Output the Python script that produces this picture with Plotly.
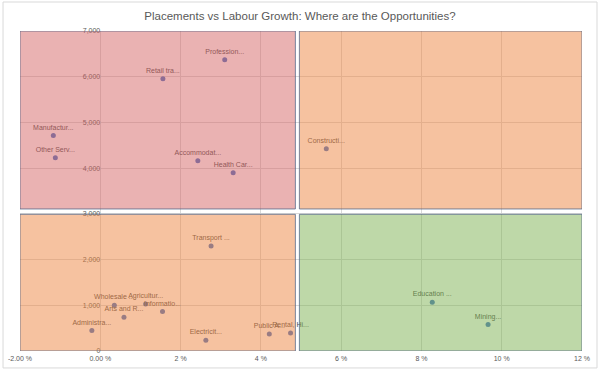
import plotly.graph_objects as go

# Data
labels = ["Profession...", "Retail tra...", "Manufactur...", "Other Serv...", "Accommodat...",
          "Health Car...", "Constructi...", "Transport ...", "Wholesale ...", "Agricultur...",
          "Arts and R...", "Informatio...", "Administra...", "Electricit...", "Public A...",
          "Rental, Hi...", "Education ...", "Mining..."]
labour_growth = [3.10, 1.56, -1.17, -1.12, 2.43, 3.31, 5.63, 2.76, 0.35, 1.13,
                 0.59, 1.55, -0.21, 2.63, 4.21, 4.74, 8.27, 9.66]
placements = [6370, 5956, 4716, 4226, 4160, 3898, 4423, 2299, 1000, 1029,
              738, 862, 446, 234, 373, 395, 1066, 578]

x_tickvals = [-2, 0, 2, 4, 6, 8, 10, 12]
x_ticktext = ["-2.00 %", "0.00 %", "2 %", "4 %", "6 %", "8 %", "10 %", "12 %"]
y_tickvals = [0, 1000, 2000, 3000, 4000, 5000, 6000, 7000]
y_ticktext = ["0", "1,000", "2,000", "3,000", "4,000", "5,000", "6,000", "7,000"]

FONT = "Liberation Sans, Arial, sans-serif"

fig = go.Figure()
fig.add_trace(go.Scatter(
    x=labour_growth, y=placements, text=labels,
    mode="markers+text", textposition="top center",
    marker=dict(color="#4472C4", size=5),
    textfont=dict(family=FONT, size=7, color="#4a4a4a"),
    cliponaxis=False, showlegend=False, hoverinfo="x+y+text",
))

line_col = "rgba(80,100,135,0.75)"
quads = [
    (-2, 4.86, 3107, 7000, "rgba(213,101,101,0.5)"),
    (4.96, 12, 3107, 7000, "rgba(237,133,65,0.5)"),
    (-2, 4.86, 0, 2990, "rgba(237,133,65,0.5)"),
    (4.96, 12, 0, 2990, "rgba(125,177,81,0.5)"),
]
for x0, x1, y0, y1, fc in quads:
    fig.add_shape(type="rect", xref="x", yref="y", x0=x0, x1=x1, y0=y0, y1=y1,
                  fillcolor=fc, line=dict(color=line_col, width=1), layer="above")

# faint outer frame
fig.add_shape(type="rect", xref="paper", yref="paper",
              x0=-0.0302, x1=1.0267, y0=-0.053, y1=1.0906,
              line=dict(color="#D9D9D9", width=1), fillcolor="rgba(0,0,0,0)", layer="below")

fig.update_layout(
    width=600, height=370,
    margin=dict(l=20, r=18, t=31, b=19, autoexpand=False),
    paper_bgcolor="white", plot_bgcolor="white",
    title=dict(text="Placements vs Labour Growth: Where are the Opportunities?",
               x=0.5, xanchor="center", y=0.957, yanchor="middle",
               font=dict(family=FONT, size=11.5, color="#595959")),
    xaxis=dict(range=[-2, 12], tickvals=x_tickvals, ticktext=x_ticktext,
               showgrid=True, gridcolor="#D9D9D9", gridwidth=1, zeroline=False,
               showline=False, ticks="", automargin=False, ticklabelstandoff=2,
               tickfont=dict(family=FONT, size=7, color="#595959")),
    yaxis=dict(range=[0, 7000], tickvals=y_tickvals, ticktext=y_ticktext,
               anchor="free", position=1/7, side="left", automargin=False,
               showgrid=True, gridcolor="#D9D9D9", gridwidth=1, zeroline=False,
               showline=False, ticks="",
               tickfont=dict(family=FONT, size=7, color="#595959")),
)

fig.write_html("out.html", config={"displayModeBar": False},
               post_script="document.body.style.margin='0';document.body.style.overflow='hidden';")
